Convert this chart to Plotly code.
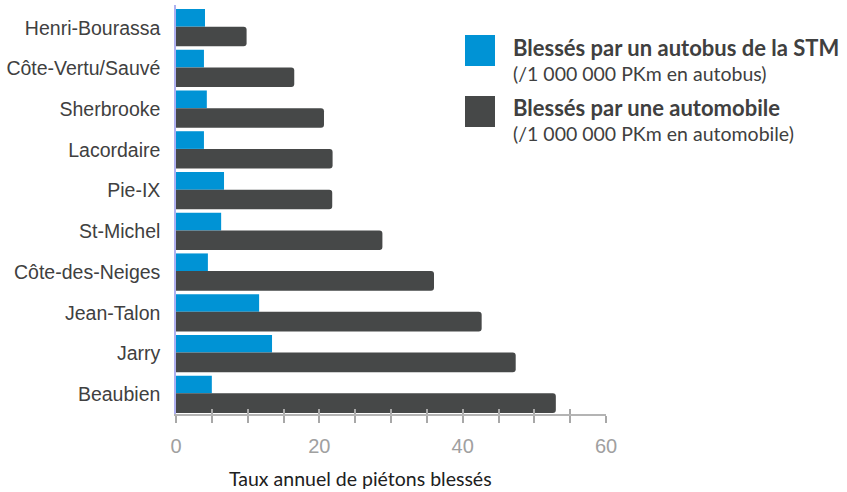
import plotly.graph_objects as go

stations = ["Henri-Bourassa", "Côte-Vertu/Sauvé", "Sherbrooke", "Lacordaire", "Pie-IX",
            "St-Michel", "Côte-des-Neiges", "Jean-Talon", "Jarry", "Beaubien"]
bus_values = [4.05, 3.9, 4.3, 3.9, 6.7, 6.3, 4.45, 11.6, 13.4, 5.0]
car_values = [9.85, 16.5, 20.65, 21.85, 21.8, 28.8, 36.0, 42.65, 47.4, 53.0]
bus_name = "Blessés par un autobus de la STM"
bus_sub = "(/1 000 000 PKm en autobus)"
car_name = "Blessés par une automobile"
car_sub = "(/1 000 000 PKm en automobile)"
x_title = "Taux annuel de piétons blessés"

BLUE = "#0093d5"
DARK = "#464848"
TXT = "#404040"

fig = go.Figure()
fig.add_trace(go.Bar(y=stations, x=bus_values, orientation="h", name=bus_name,
                     offset=-0.4585, width=0.434,
                     marker=dict(color=BLUE, line=dict(width=0)), showlegend=False))
fig.add_trace(go.Bar(y=stations, x=car_values, orientation="h", name=car_name,
                     offset=-0.0245, width=0.483,
                     marker=dict(color=DARK, line=dict(width=0), cornerradius=3), showlegend=False))

L, R, T, B = 176, 241, 5, 78
W, H = 847, 492
pw = W - L - R
ph = H - T - B

def px(x):
    return (x - L) / pw

def py(y):
    return (H - B - y) / ph

fig.update_layout(
    width=W, height=H,
    margin=dict(l=L, r=R, t=T, b=B, pad=0, autoexpand=False),
    barmode="overlay",
    plot_bgcolor="white", paper_bgcolor="white",
    font=dict(family="Liberation Sans, Arial, sans-serif", color=TXT),
    xaxis=dict(range=[0, 60], tickvals=[0, 20, 40, 60], showgrid=False, zeroline=False,
               automargin=False,
               showline=True, linecolor="#b4b4b4", linewidth=1.5,
               ticks="outside", ticklen=7, tickcolor="#a8a8a8", tickwidth=1.5,
               minor=dict(dtick=5, ticks="outside", ticklen=7, tickcolor="#a8a8a8", tickwidth=1.5),
               tickfont=dict(size=20, color="#a0a0a0"), ticklabelstandoff=6),
    xaxis2=dict(range=[0, 60], overlaying="x", anchor="y", side="bottom",
                showgrid=False, zeroline=False, showticklabels=False, automargin=False,
                tickvals=[0, 5, 10, 15, 20, 25, 30, 35, 40, 45, 50, 55, 60],
                ticks="inside", ticklen=5, tickcolor="#a8a8a8", tickwidth=1.5),
    yaxis=dict(range=[9.483, -0.557], showgrid=False, zeroline=False, automargin=False,
               showline=True, linecolor="#aeb0f0", linewidth=1.5,
               ticks="", tickfont=dict(size=19.5, color=TXT), ticklabelstandoff=10),
)
fig.add_trace(go.Scatter(x=[0], y=[stations[0]], xaxis="x2", mode="markers",
                         marker=dict(opacity=0), showlegend=False, hoverinfo="skip"))

# legend
fig.add_shape(type="rect", xref="paper", yref="paper", x0=px(465), x1=px(495), y0=py(66), y1=py(35),
              fillcolor=BLUE, line=dict(width=0))
fig.add_shape(type="rect", xref="paper", yref="paper", x0=px(465), x1=px(495), y0=py(127), y1=py(96),
              fillcolor=DARK, line=dict(width=0))
leg_font_b = dict(family="Lato, Open Sans, sans-serif", size=22, color=TXT, weight="bold")
leg_font = dict(family="Lato, Open Sans, sans-serif", size=19.5, color=TXT)
for txt, y, f in [(bus_name, 47, leg_font_b), (bus_sub, 73, leg_font),
                  (car_name, 107, leg_font_b), (car_sub, 133, leg_font)]:
    fig.add_annotation(text=txt, xref="paper", yref="paper", x=px(511), y=py(y),
                       xanchor="left", yanchor="middle", showarrow=False, font=f)

fig.add_annotation(text=x_title, xref="paper", yref="paper", x=px(360), y=py(478),
                   xanchor="center", yanchor="middle", showarrow=False,
                   font=dict(family="Lato, Open Sans, sans-serif", size=19.5, color="#202020"))

fig.write_html("out.html", config={"displayModeBar": False},
               post_script="document.body.style.margin='0';document.body.style.overflow='hidden';")
